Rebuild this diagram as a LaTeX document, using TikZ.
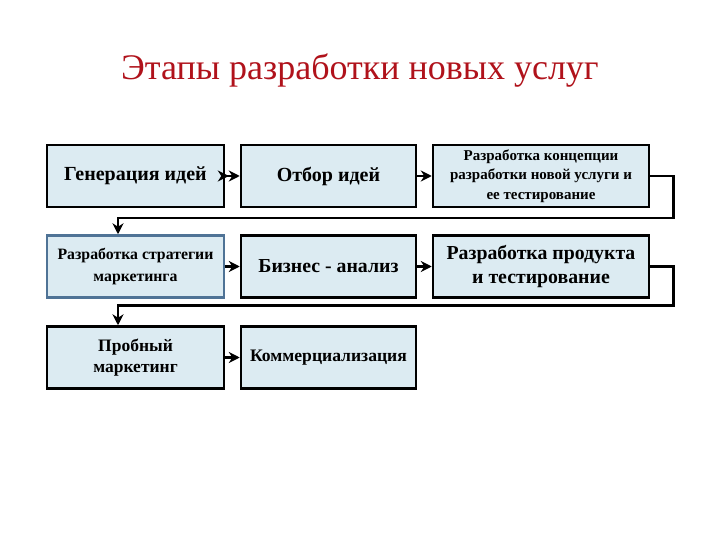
\documentclass[tikz,border=0pt]{standalone}
\usepackage{fontspec}
\setmainfont{Liberation Serif}
\usetikzlibrary{positioning, arrows.meta}
\definecolor{stagefill}{HTML}{DCEBF2}
\definecolor{stageblue}{HTML}{4F7396}
\definecolor{titlered}{HTML}{B0121B}

\begin{document}
\begin{tikzpicture}[x=1pt, y=-1pt,
        box/.style={draw=black, fill=stagefill, line width=2.5pt, minimum height=62pt, inner sep=1pt, align=center, font=\bfseries},
        link/.style={line width=2.5pt, -{Stealth[length=11pt, width=11pt]}}
    ]
      \useasboundingbox (0,0) rectangle (720,540);
      \node[text=titlered, font=\fontsize{36}{40}\selectfont] (title) at (360,71) {Этапы разработки новых услуг};

      % First row
      \node[box, minimum width=177pt, font=\bfseries\fontsize{20}{22}\selectfont] (gen) at (135.5,176) {Генерация идей};
      \node[box, minimum width=175pt, font=\bfseries\fontsize{20}{22}\selectfont] (otbor) at (328.5,176) {Отбор идей};
      \node[box, minimum width=216pt, font=\bfseries\fontsize{15}{19.5}\selectfont] (konc) at (541,176) {Разработка концепции\\разработки новой услуги и\\ее тестирование};

      % Second row
      \node[box, draw=stageblue, minimum width=177pt, font=\bfseries\fontsize{15.8}{22}\selectfont] (strat) at (135.5,266.5) {Разработка стратегии\\маркетинга};
      \node[box, minimum width=175pt, font=\bfseries\fontsize{19.8}{22}\selectfont] (biz) at (328.5,266.5) {Бизнес - анализ};
      \node[box, minimum width=216pt, font=\bfseries\fontsize{19.8}{24}\selectfont] (prod) at (541,266.5) {Разработка продукта\\и тестирование};

      % Third row
      \node[box, minimum width=177pt, font=\bfseries\fontsize{17.5}{21}\selectfont] (prob) at (135.5,357.5) {Пробный\\маркетинг};
      \node[box, minimum width=175pt, font=\bfseries\fontsize{17.6}{20}\selectfont] (komm) at (328.5,357.5) {Коммерциализация};

      % Arrows inside rows
      \draw[line width=2.5pt, -{Stealth[length=11pt, width=11pt] Stealth[length=11pt, width=11pt]}] (gen) -- (otbor);
      \draw[link] (otbor) -- (konc);
      \draw[link] (strat) -- (biz);
      \draw[link] (biz) -- (prod);
      \draw[link] (prob) -- (komm);

      % Arrows between rows
      \draw[link] (konc.east) -- ++(23,0) -- ++(0,42) -| ([xshift=-17.5]strat.north);
      \draw[link] (prod.east) -- ++(23,0) -- ++(0,39) -| ([xshift=-17.5]prob.north);
    \end{tikzpicture}
\end{document}
